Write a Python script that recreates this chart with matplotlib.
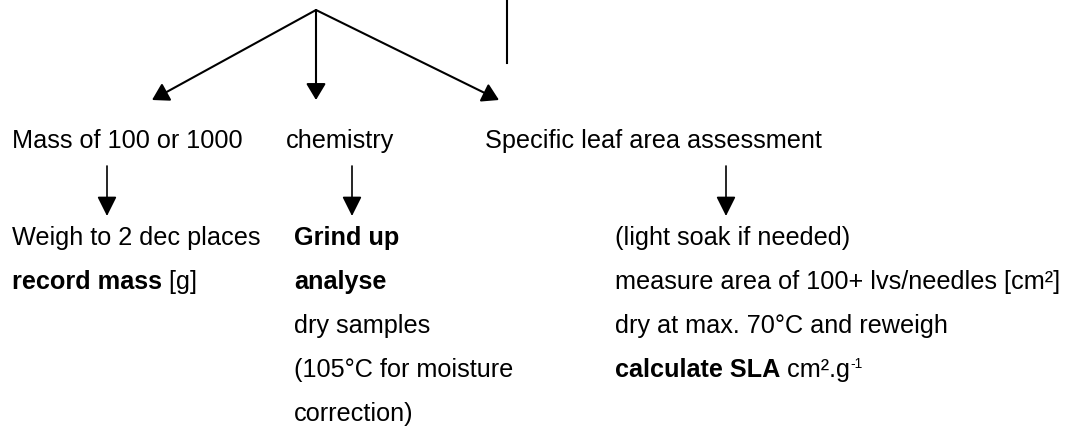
import matplotlib
matplotlib.use("Agg")
import matplotlib.pyplot as plt

plt.rcParams["font.family"] = ["Liberation Sans", "DejaVu Sans"]

# =========================
# Flowchart text
# =========================
branch_titles = ["Mass of 100 or 1000", "chemistry", "Specific leaf area assessment"]

# each step is a list of (text, weight) runs
mass_steps = [
    [("Weigh to 2 dec places", "normal")],
    [("record mass", "bold"), (" [g]", "normal")],
]
chem_steps = [
    [("Grind up", "bold")],
    [("analyse", "bold")],
    [("dry samples", "normal")],
    [("(105°C for moisture", "normal")],
    [("correction)", "normal")],
]
sla_steps = [
    [("(light soak if needed)", "normal")],
    [("measure area of 100+ lvs/needles [cm²]", "normal")],
    [("dry at max. 70°C and reweigh", "normal")],
    [("calculate SLA", "bold"), (" cm².g", "normal"), ("-1", "sup")],
]

FS = 18.2

fig = plt.figure(figsize=(10.66, 4.26), dpi=100)
ax = fig.add_axes([0, 0, 1, 1])
ax.set_xlim(0, 1066)
ax.set_ylim(426, 0)
ax.axis("off")
renderer = fig.canvas.get_renderer()


def draw_runs(x, y, runs):
    for txt, kind in runs:
        if kind == "sup":
            t = ax.text(x, y - 9, txt, fontsize=10, va="baseline", ha="left")
        else:
            t = ax.text(x, y, txt, fontsize=FS, fontweight=kind, va="baseline", ha="left")
        bb = t.get_window_extent(renderer=renderer)
        x = ax.transData.inverted().transform((bb.x1, bb.y0))[0]


def arrow(start, end, lw, style):
    ax.annotate("", xy=end, xytext=start,
                arrowprops=dict(arrowstyle=style, lw=lw, color="black",
                                mutation_scale=20, shrinkA=0, shrinkB=0))


# top branching arrows
apex = (316, 10)
top_style = "-|>,head_length=0.5,head_width=0.3"
for tip in [(152, 100), (316, 100), (499, 100)]:
    arrow(apex, tip, 1.5, top_style)
ax.plot([507, 507], [0, 63], color="black", lw=1.5)

# branch titles
title_x = [12, 286, 485]
for x, s in zip(title_x, branch_titles):
    ax.text(x, 148, s, fontsize=FS, va="baseline", ha="left")

# small down arrows
small_style = "-|>,head_length=0.6,head_width=0.3"
for x in [107, 352, 726]:
    arrow((x, 166), (x, 216), 1.2, small_style)

# step columns
row_y = [245, 289, 333, 377, 421]
for col_x, steps in [(12, mass_steps), (294, chem_steps), (615, sla_steps)]:
    for y, runs in zip(row_y, steps):
        draw_runs(col_x, y, runs)

plt.savefig("out.png", dpi=100)
